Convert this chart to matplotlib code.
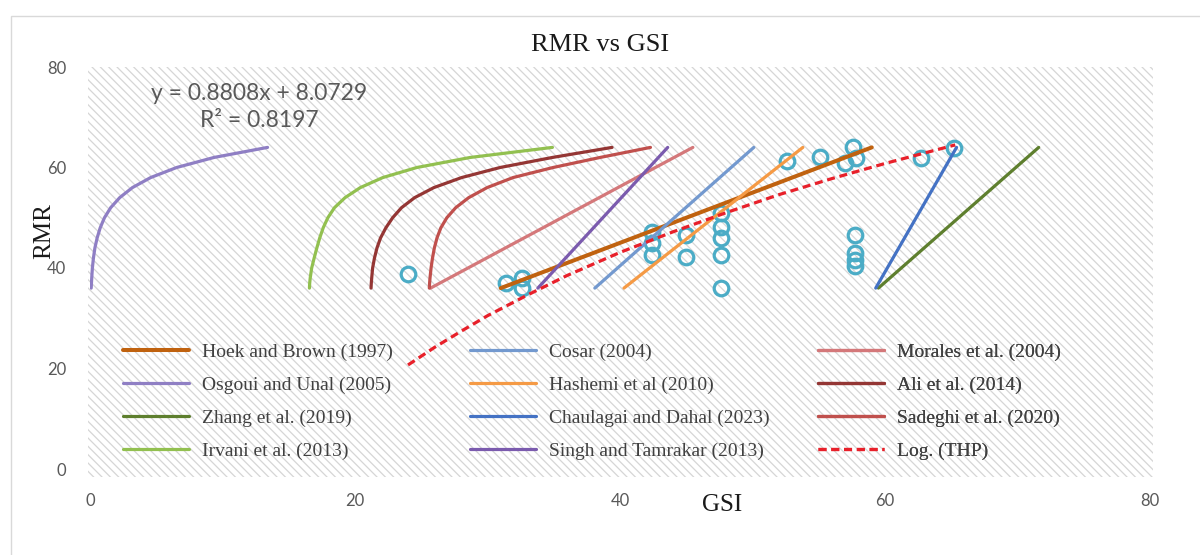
import matplotlib
matplotlib.use("Agg")
import matplotlib.pyplot as plt
from matplotlib.patches import Rectangle

plt.rcParams['font.family'] = ['Lato', 'DejaVu Sans']
plt.rcParams['hatch.linewidth'] = 0.9

# RMR levels at which the curved correlations are tabulated
rmr_curve = [36, 37, 38, 40, 42, 44, 46, 48, 50, 52, 54, 56, 58, 60, 62, 64]

gsi_osgoui = [0.09, 0.11, 0.13, 0.18, 0.26, 0.37, 0.54, 0.77, 1.09, 1.56, 2.24, 3.20, 4.58, 6.54, 9.36, 13.4]
gsi_irvani = [16.56, 16.58, 16.62, 16.73, 16.92, 17.12, 17.34, 17.6, 17.95, 18.45, 19.25, 20.4, 22.1, 24.67, 28.7, 34.9]
gsi_ali = [21.21, 21.23, 21.26, 21.33, 21.47, 21.66, 21.93, 22.33, 22.84, 23.51, 24.5, 25.95, 28.05, 30.95, 34.9, 39.4]
gsi_sadeghi = [25.61, 25.63, 25.66, 25.74, 25.85, 25.99, 26.19, 26.48, 26.93, 27.6, 28.58, 29.97, 31.93, 34.95, 38.5, 42.3]

# straight-line correlations: end points over the same RMR range
rmr_line = [36, 64]
gsi_hoek = [31.0, 59.0]
gsi_cosar = [38.1, 50.1]
gsi_morales = [25.7, 45.5]
gsi_hashemi = [40.3, 53.8]
gsi_zhang = [59.5, 71.6]
gsi_chaulagai = [59.3, 65.4]
gsi_singh = [33.8, 43.6]

# THP observations
gsi_obs = [24.0, 31.4, 32.6, 32.6, 42.4, 42.4, 42.4, 45.0, 45.0, 47.6, 47.6, 47.6, 47.6, 47.6,
           52.6, 55.1, 57.6, 57.0, 57.8, 62.7, 65.2, 57.7, 57.7, 57.7, 57.7]
rmr_obs = [38.8, 37.0, 38.0, 36.0, 47.2, 45.0, 42.6, 46.6, 42.2, 50.9, 48.2, 45.9, 42.6, 36.0,
           61.2, 62.0, 64.1, 60.8, 61.9, 61.8, 63.8, 46.6, 42.9, 41.6, 40.3]

# logarithmic trend of the THP data
gsi_log = [24, 26, 28, 30, 33, 36, 40, 44, 48, 52, 56, 60, 65.3]
rmr_log = [20.7, 24.2, 27.4, 30.5, 34.6, 38.5, 43.1, 47.2, 51.0, 54.6, 57.8, 60.8, 64.5]

ticks = [0, 20, 40, 60, 80]

fig = plt.figure(figsize=(12, 5.55), dpi=100)
ax = fig.add_axes([90 / 1200, 1 - 469 / 555, 1060 / 1200, 402 / 555])
ax.patch.set_visible(False)

# hatched plot area
ax.add_patch(Rectangle((-0.002, -0.02), 1.005, 1.02, transform=ax.transAxes,
                       facecolor='white', edgecolor='#d6d6d6', lw=0,
                       hatch='\\\\\\\\', zorder=0, clip_on=False))

# chart border
fig.add_artist(Rectangle((11 / 1200, -0.05), 1.1, 1 - 16 / 555 + 0.05,
                         transform=fig.transFigure, fill=False,
                         edgecolor='#d9d9d9', lw=1))

ax.plot(gsi_obs, rmr_obs, 'o', ms=10.5, mfc='none', mec='#4BACC6', mew=2.3, zorder=2)

lw = 2.3
h = []
h += ax.plot(gsi_hoek, rmr_line, color='#C0620F', lw=2.9, label='Hoek and Brown (1997)', zorder=3)
h += ax.plot(gsi_cosar, rmr_line, color='#7399CF', lw=lw, label='Cosar (2004)', zorder=3)
h += ax.plot(gsi_morales, rmr_line, color='#D4787A', lw=lw, label='Morales et al. (2004)', zorder=3)
h += ax.plot(gsi_osgoui, rmr_curve, color='#8F7FC4', lw=lw, label='Osgoui and Unal (2005)', zorder=3)
h += ax.plot(gsi_hashemi, rmr_line, color='#F59A45', lw=lw, label='Hashemi et al (2010)', zorder=3)
h += ax.plot(gsi_ali, rmr_curve, color='#943634', lw=lw, label='Ali et al. (2014)', zorder=3)
h += ax.plot(gsi_zhang, rmr_line, color='#5E7F2E', lw=lw, label='Zhang et al. (2019)', zorder=3)
h += ax.plot(gsi_chaulagai, rmr_line, color='#4472C4', lw=lw, label='Chaulagai and Dahal (2023)', zorder=3)
h += ax.plot(gsi_sadeghi, rmr_curve, color='#C0504D', lw=lw, label='Sadeghi et al. (2020)', zorder=3)
h += ax.plot(gsi_irvani, rmr_curve, color='#92C050', lw=lw, label='Irvani et al. (2013)', zorder=3)
h += ax.plot(gsi_singh, rmr_line, color='#7B5BAE', lw=lw, label='Singh and Tamrakar (2013)', zorder=3)
h += ax.plot(gsi_log, rmr_log, color='#E8202A', lw=lw, ls=(0, (2.5, 1.5)), label='Log. (THP)', zorder=4)

for line in h:
    line.set_solid_capstyle('round')

ax.set_xlim(0, 80)
ax.set_ylim(0, 80)
ax.set_xticks(ticks)
ax.set_yticks(ticks)
ax.tick_params(length=0, pad=17, labelsize=12, labelcolor='#595959')
for s in ax.spines.values():
    s.set_visible(False)

# three equal-width legend columns
col_x = [33 / 1060, 380 / 1060, 728 / 1060]
for c in range(3):
    leg = ax.legend(handles=h[c::3], loc='upper left', bbox_to_anchor=(col_x[c], 0.3134),
                    frameon=False, borderpad=0, borderaxespad=0, handlelength=3.4,
                    handletextpad=0.65, labelspacing=0.79, labelcolor='#404040',
                    prop={'family': 'Liberation Serif', 'size': 14})
    ax.add_artist(leg)

ax.text(12.75, 72.1, 'y = 0.8808x + 8.0729\nR² = 0.8197', ha='center', va='center',
        multialignment='center', fontsize=16.5, color='#595959', linespacing=1.35, zorder=5)

fig.text(600 / 1200, 1 - 45 / 555, 'RMR vs GSI', ha='center', va='center',
         family='Liberation Serif', size=19, color='#1a1a1a')
fig.text(44 / 1200, 1 - 231 / 555, 'RMR', ha='center', va='center', rotation=90,
         family='Liberation Serif', size=18, color='#1a1a1a')
fig.text(722 / 1200, 1 - 505 / 555, 'GSI', ha='center', va='center',
         family='Liberation Serif', size=18, color='#1a1a1a')

fig.savefig('out.png', dpi=100)
